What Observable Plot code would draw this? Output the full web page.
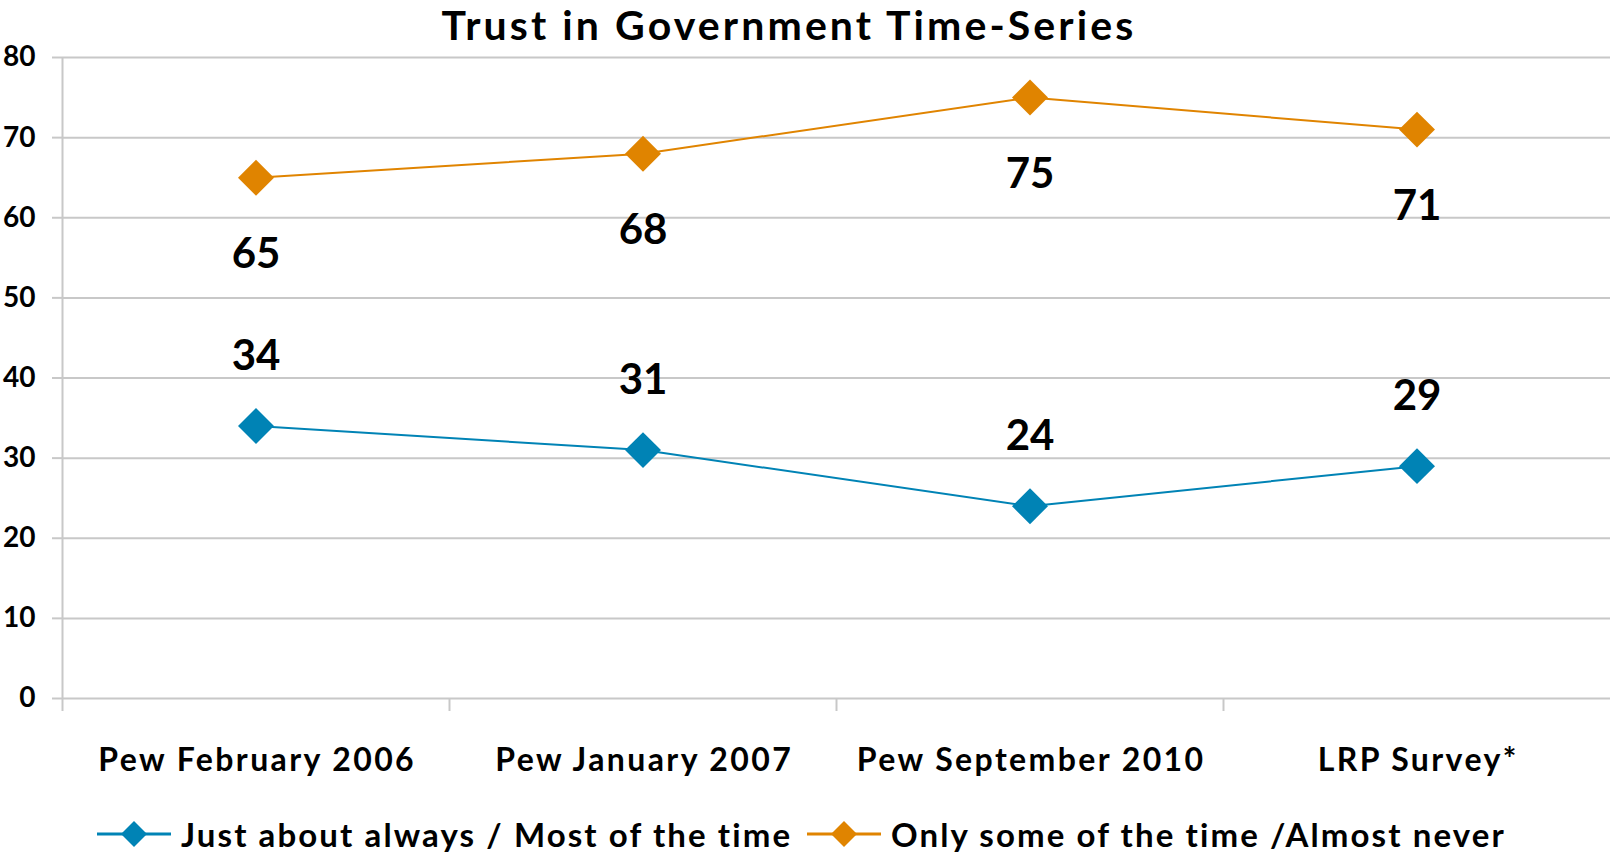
<!DOCTYPE html>
<html><head><meta charset="utf-8">
<script src="https://cdn.jsdelivr.net/npm/d3@7"></script>
<script src="https://cdn.jsdelivr.net/npm/@observablehq/plot@0.6"></script>
<style>
body{margin:0;background:#fff;font-family:Lato,"Noto Sans",sans-serif;}
#wrap{width:1610px;height:857px;overflow:hidden;position:relative;}
#title{position:absolute;left:0;top:0;width:1610px;height:50px;box-sizing:border-box;padding-right:32px;line-height:50px;text-align:center;font-size:41px;font-weight:700;color:#000;white-space:nowrap;letter-spacing:3.1px;z-index:2;}
#legend{position:absolute;left:0;top:812px;height:44px;width:1610px;}
.item{position:absolute;top:0;display:flex;align-items:center;height:44px;font-size:33px;font-weight:700;color:#000;white-space:nowrap;letter-spacing:2.1px;}
.item svg{margin-right:10px;}
</style></head><body>
<div id="wrap">
<div id="title">Trust in Government Time-Series</div>
<div id="chart"></div>
<div id="legend"></div>
</div>
<script>
const categories = ["Pew February 2006", "Pew January 2007", "Pew September 2010", "LRP Survey*"];
const seriesNames = ["Just about always / Most of the time", "Only some of the time /Almost never"];
const trustValues = [34, 31, 24, 29];
const distrustValues = [65, 68, 75, 71];
const yTicks = [0, 10, 20, 30, 40, 50, 60, 70, 80];
const seriesColors = ["#0083B5", "#E08400"];

const data = [];
categories.forEach((c, i) => {
  data.push({i, cat: c, series: seriesNames[0], value: trustValues[i]});
  data.push({i, cat: c, series: seriesNames[1], value: distrustValues[i]});
});
const boundaries = categories.map((c, i) => i - 0.5);
const gray = "#C8C8C8";

const chart = Plot.plot({
  width: 1610,
  height: 790,
  marginTop: 57,
  marginLeft: 62,
  marginRight: 0,
  marginBottom: 92,
  style: {fontFamily: "Lato, 'Noto Sans', sans-serif", background: "transparent", overflow: "visible"},
  x: {domain: [-0.5, categories.length - 0.5]},
  y: {domain: [0, 80]},
  color: {domain: seriesNames, range: seriesColors},
  marks: [
    Plot.gridY(yTicks, {stroke: gray, strokeOpacity: 1, strokeWidth: 2}),
    Plot.axisY({ticks: yTicks, tickSize: 10, tickPadding: 17, stroke: gray, strokeOpacity: 1, strokeWidth: 2, fontSize: 28, fontWeight: "bold", fill: "#000", label: null}),
    Plot.ruleX([-0.5], {stroke: gray, strokeWidth: 2}),
    Plot.axisX({ticks: boundaries, tickSize: 13, tickFormat: () => "", stroke: gray, strokeOpacity: 1, strokeWidth: 2, label: null}),
    Plot.text(categories, {x: (d, i) => i, frameAnchor: "bottom", lineAnchor: "bottom", dy: 72, dx: 1.2, text: d => d, fontSize: 32, fontWeight: "bold", fill: "#000"}),
    Plot.line(data, {x: "i", y: "value", z: "series", stroke: "series", strokeWidth: 2}),
    Plot.dot(data, {x: "i", y: "value", fill: "series", symbol: "diamond2", r: 16.2, stroke: "none"}),
    Plot.text(data.filter(d => d.series === seriesNames[1]), {x: "i", y: "value", text: d => String(d.value), lineAnchor: "bottom", dy: 90, fontSize: 42, fontWeight: "bold", fill: "#000"}),
    Plot.text(data.filter(d => d.series === seriesNames[0]), {x: "i", y: "value", text: d => String(d.value), lineAnchor: "bottom", dy: -56, fontSize: 42, fontWeight: "bold", fill: "#000"})
  ]
});
d3.select(chart).selectAll("text")
  .filter(function() { return categories.includes(this.textContent); })
  .style("letter-spacing", "2.4px");
document.getElementById("chart").appendChild(chart);

const legend = document.getElementById("legend");
const starts = [97, 807];
seriesNames.forEach((name, k) => {
  const item = document.createElement("div");
  item.className = "item";
  item.style.left = starts[k] + "px";
  item.innerHTML = `<svg width="74" height="30" viewBox="0 0 74 30"><line x1="0" y1="15" x2="74" y2="15" stroke="${seriesColors[k]}" stroke-width="3"/><path d="M37 2 L50 15 L37 28 L24 15 Z" fill="${seriesColors[k]}"/></svg><span>${name}</span>`;
  legend.appendChild(item);
});
</script>
</body></html>
